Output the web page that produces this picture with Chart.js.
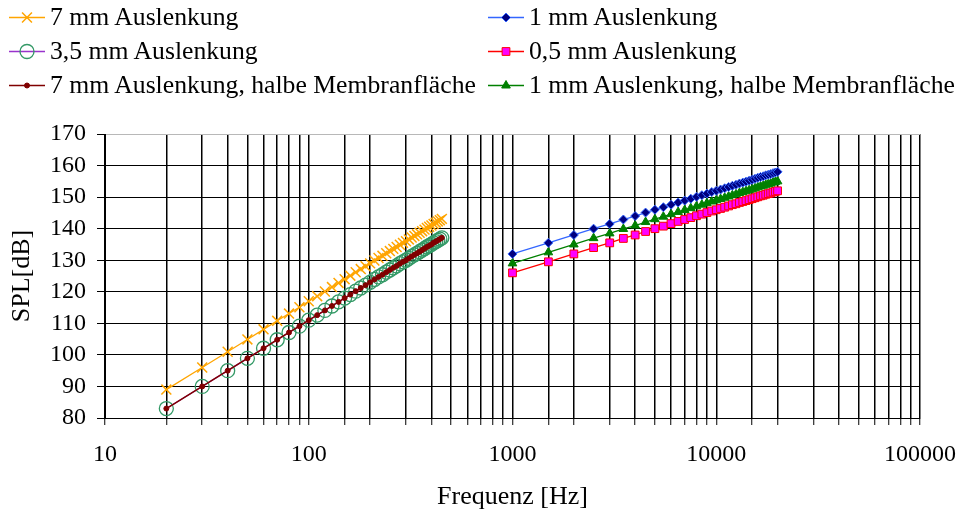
<!DOCTYPE html>
<html>
<head>
<meta charset="utf-8">
<script src="https://cdn.jsdelivr.net/npm/chart.js@4/dist/chart.umd.min.js"></script>
<style>
html,body{margin:0;padding:0;background:#fff;}
#wrap{position:relative;width:960px;height:516px;overflow:hidden;}
#c{position:absolute;left:0;top:0;}
.leg{position:absolute;height:30px;display:flex;align-items:center;font-family:"Liberation Serif","Times New Roman",serif;font-size:25.7px;color:#000;white-space:nowrap;}
.leg canvas{margin-right:5px;}
</style>
</head>
<body>
<div id="wrap"><canvas id="c" width="960" height="516"></canvas></div>
<script>
// ---- data ----
const freqLow = [20,30,40,50,60,70,80,90,100,110,120,130,140,150,160,170,180,190,200,210,220,230,240,250,260,270,280,290,300,310,320,330,340,350,360,370,380,390,400,410,420,430,440,450];
const spl7mm = [89.0,96.0,101.0,104.9,108.1,110.8,113.1,115.1,117.0,118.6,120.1,121.5,122.8,124.0,125.1,126.2,127.2,128.1,129.0,129.9,130.7,131.4,132.2,132.9,133.6,134.2,134.9,135.5,136.0,136.6,137.2,137.7,138.2,138.7,139.2,139.7,140.2,140.6,141.0,141.5,141.9,142.3,142.7,143.1];
const spl35mm = [83.0,90.0,95.0,98.9,102.1,104.8,107.1,109.1,111.0,112.6,114.1,115.5,116.8,118.0,119.1,120.2,121.2,122.1,123.0,123.9,124.7,125.4,126.2,126.9,127.6,128.2,128.9,129.5,130.0,130.6,131.2,131.7,132.2,132.7,133.2,133.7,134.2,134.6,135.0,135.5,135.9,136.3,136.7,137.1];
const spl7mmHalf = [83.0,90.0,95.0,98.9,102.1,104.8,107.1,109.1,111.0,112.6,114.1,115.5,116.8,118.0,119.1,120.2,121.2,122.1,123.0,123.9,124.7,125.4,126.2,126.9,127.6,128.2,128.9,129.5,130.0,130.6,131.2,131.7,132.2,132.7,133.2,133.7,134.2,134.6,135.0,135.5,135.9,136.3,136.7,137.1];
const freqHigh = [1000,1500,2000,2500,3000,3500,4000,4500,5000,5500,6000,6500,7000,7500,8000,8500,9000,9500,10000,10500,11000,11500,12000,12500,13000,13500,14000,14500,15000,15500,16000,16500,17000,17500,18000,18500,19000,19500,20000];
const spl1mm = [132.0,135.5,138.0,140.0,141.5,142.9,144.0,145.1,146.0,146.8,147.6,148.3,148.9,149.5,150.1,150.6,151.1,151.6,152.0,152.4,152.8,153.2,153.6,153.9,154.3,154.6,154.9,155.2,155.5,155.8,156.1,156.4,156.6,156.9,157.1,157.3,157.6,157.8,158.0];
const spl05mm = [126.0,129.5,132.0,134.0,135.5,136.9,138.0,139.1,140.0,140.8,141.6,142.3,142.9,143.5,144.1,144.6,145.1,145.6,146.0,146.4,146.8,147.2,147.6,147.9,148.3,148.6,148.9,149.2,149.5,149.8,150.1,150.4,150.6,150.9,151.1,151.3,151.6,151.8,152.0];
const spl1mmHalf = [129.0,132.5,135.0,137.0,138.5,139.9,141.0,142.1,143.0,143.8,144.6,145.3,145.9,146.5,147.1,147.6,148.1,148.6,149.0,149.4,149.8,150.2,150.6,150.9,151.3,151.6,151.9,152.2,152.5,152.8,153.1,153.4,153.6,153.9,154.1,154.3,154.6,154.8,155.0];
const seriesNames = ["7 mm Auslenkung","3,5 mm Auslenkung","7 mm Auslenkung, halbe Membranfläche","1 mm Auslenkung","0,5 mm Auslenkung","1 mm Auslenkung, halbe Membranfläche"];
const xTitle = "Frequenz [Hz]";
const yTitle = "SPL[dB]";
const yMin = 80, yMax = 170, yStep = 10;
const xMin = 10, xMax = 100000;

function pts(xs, ys){ return xs.map((x,i)=>({x:x, y:ys[i]})); }

const FONT = '"Liberation Serif","Times New Roman",serif';

const datasets = [
  {label:seriesNames[0], data:pts(freqLow,spl7mm), borderColor:'#FFA500', backgroundColor:'#FFA500', pointStyle:'crossRot', pointRadius:7, pointBorderColor:'#FFA500', pointBorderWidth:1.5, borderWidth:1.3, order:0},
  {label:seriesNames[1], data:pts(freqLow,spl35mm), borderColor:'#9933CC', backgroundColor:'rgba(0,0,0,0)', pointStyle:'circle', pointRadius:7, pointBorderColor:'#339966', pointBackgroundColor:'rgba(0,0,0,0)', pointBorderWidth:1.3, borderWidth:1.3, order:2},
  {label:seriesNames[2], data:pts(freqLow,spl7mmHalf), borderColor:'#800000', backgroundColor:'#800000', pointStyle:'circle', pointRadius:2.5, pointBorderColor:'#800000', pointBackgroundColor:'#800000', pointBorderWidth:1, borderWidth:1.5, order:1},
  {label:seriesNames[3], data:pts(freqHigh,spl1mm), borderColor:'#3366FF', backgroundColor:'#000080', pointStyle:'rectRot', pointRadius:4.5, pointBorderColor:'#3366FF', pointBackgroundColor:'#000080', pointBorderWidth:1, borderWidth:1.3, order:3},
  {label:seriesNames[4], data:pts(freqHigh,spl05mm), borderColor:'#FF0000', backgroundColor:'#FF00FF', pointStyle:'rect', pointRadius:5.5, pointBorderColor:'#FF0000', pointBackgroundColor:'#FF00FF', pointBorderWidth:1, borderWidth:1.3, order:5},
  {label:seriesNames[5], data:pts(freqHigh,spl1mmHalf), borderColor:'#008000', backgroundColor:'#008000', pointStyle:'triangle', pointRadius:5, pointBorderColor:'#008000', pointBackgroundColor:'#008000', pointBorderWidth:1, borderWidth:1.3, order:4}
];

const chart = new Chart(document.getElementById('c'), {
  type:'line',
  data:{datasets:datasets},
  options:{
    responsive:false,
    animation:false,
    devicePixelRatio:1,
    layout:{padding:{top:134,right:40,left:0,bottom:0}},
    plugins:{legend:{display:false}, tooltip:{enabled:false}},
    elements:{line:{tension:0}},
    scales:{
      x:{
        type:'logarithmic', min:xMin, max:xMax,
        afterFit:function(s){ s.height = 98; s.paddingLeft = 0; s.paddingRight = 0; },
        grid:{color:'#000', lineWidth:1.5, tickLength:7, tickColor:'#000', tickWidth:1},
        border:{color:'#000', width:1},
        ticks:{
          autoSkip:false, maxRotation:0, minRotation:0, padding:15,
          color:'#000', font:{family:FONT, size:24},
          callback:function(v){ const l=Math.log10(v); return Math.abs(l-Math.round(l))<1e-9 ? String(Math.round(v)) : ''; }
        },
        title:{display:true, text:xTitle, color:'#000', font:{family:FONT, size:26}, padding:{top:0,bottom:3}}
      },
      y:{
        min:yMin, max:yMax,
        afterFit:function(s){ s.width = 105; s.paddingTop = 0; s.paddingBottom = 0; },
        grid:{color:function(c){ return (c.tick && c.tick.value===yMax) ? '#b8b8b8' : '#000'; }, lineWidth:1, tickLength:8, tickColor:'#000'},
        border:{color:'#000', width:1},
        ticks:{stepSize:yStep, autoSkip:false, padding:11, color:'#000', font:{family:FONT, size:24}},
        title:{display:true, text:yTitle, color:'#000', font:{family:FONT, size:26}, padding:{top:7,bottom:0}}
      }
    }
  }
});

// ---- HTML legend (two columns) ----
const legendPos = [
  {left:9, top:2},{left:9, top:36},{left:9, top:70},
  {left:488, top:2},{left:488, top:36},{left:488, top:70}
];
const order = [0,1,2,3,4,5];
order.forEach((di,i)=>{
  const ds = datasets[di];
  const div = document.createElement('div');
  div.className='leg';
  div.style.left = legendPos[i].left+'px';
  div.style.top = legendPos[i].top+'px';
  const cv = document.createElement('canvas');
  cv.width=36; cv.height=30;
  const ctx = cv.getContext('2d');
  ctx.strokeStyle = ds.borderColor; ctx.lineWidth = ds.borderWidth;
  ctx.beginPath(); ctx.moveTo(0,15.5); ctx.lineTo(36,15.5); ctx.stroke();
  ctx.lineWidth = ds.pointBorderWidth;
  ctx.strokeStyle = ds.pointBorderColor;
  ctx.fillStyle = ds.pointBackgroundColor || ds.backgroundColor;
  Chart.helpers.drawPoint(ctx, {pointStyle:ds.pointStyle, radius:ds.pointRadius, rotation:0, borderWidth:ds.pointBorderWidth}, 18, 15.5);
  div.appendChild(cv);
  const sp = document.createElement('span');
  sp.textContent = ds.label;
  div.appendChild(sp);
  document.getElementById('wrap').appendChild(div);
});
</script>
</body>
</html>
